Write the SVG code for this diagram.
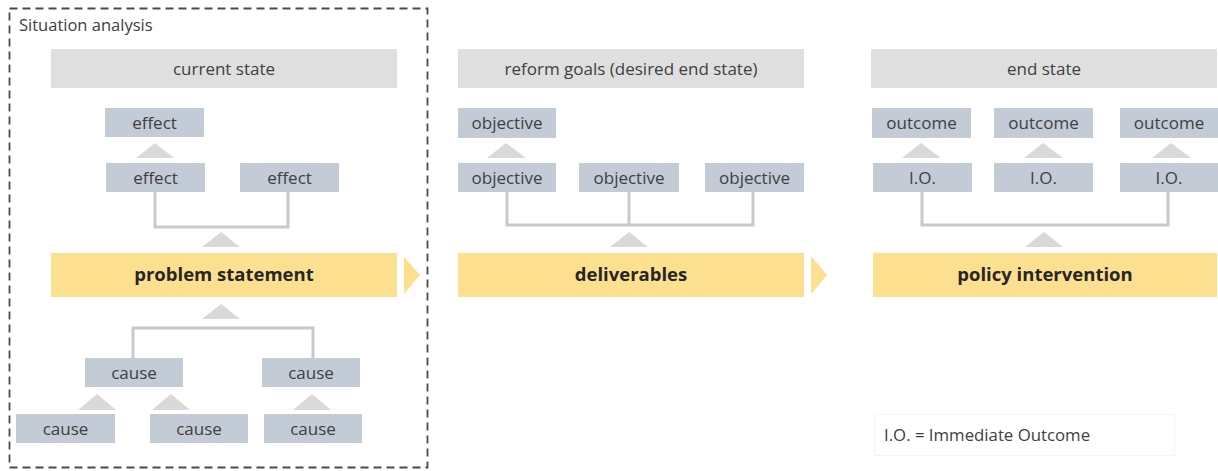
<svg xmlns="http://www.w3.org/2000/svg" width="1218" height="471" viewBox="0 0 1218 471">
<style>
text{font-family:"Open Sans","DejaVu Sans",sans-serif;fill:#404040;text-anchor:middle}
.hdr{fill:#dfdfdf}
.box{fill:#c3cbd7}
.main{fill:#fde08f}
.lbl{font-size:17px}
.big{font-size:18.5px;font-weight:bold;fill:#262626}
.tri{fill:#d9d9d9}
.con{fill:none;stroke:#c9c9c9;stroke-width:3}
.arr{fill:#fde08f}
</style>
<rect width="1218" height="471" fill="#fff"/>
<g id="situation-analysis">
<rect x="9.5" y="8.5" width="418" height="459" fill="none" stroke="#4a4a4a" stroke-width="1.8" stroke-dasharray="8,5"/>
<text x="19" y="31" style="font-size:16.5px;text-anchor:start">Situation analysis</text>
</g>
<g id="connectors">
<path class="con" d="M155 192V227H288V192"/>
<path class="con" d="M133 358V328H313V358"/>
<path class="con" d="M507 192V225H753V192M629 192V225"/>
<path class="con" d="M922 192V225H1168V192"/>
<polygon class="tri" points="136,158 155,143 174,158"/>
<polygon class="tri" points="202,247 221,232 240,247"/>
<polygon class="tri" points="202,319 221,304 240,319"/>
<polygon class="tri" points="78,410 97,394 116,410"/>
<polygon class="tri" points="152,410 171,394 190,410"/>
<polygon class="tri" points="293,410 312,394 331,410"/>
<polygon class="tri" points="487,158 506,143 526,158"/>
<polygon class="tri" points="610,247 629,232 648,247"/>
<polygon class="tri" points="902,158 921,143 941,158"/>
<polygon class="tri" points="1024,158 1043,143 1063,158"/>
<polygon class="tri" points="1152,158 1171,143 1191,158"/>
<polygon class="tri" points="1025,247 1044,232 1063,247"/>
<polygon class="arr" points="404,257 420,275 404,294"/>
<polygon class="arr" points="811,256 827,275 811,294"/>
</g>
<g id="current-state"><rect class="hdr" x="51" y="49" width="346" height="39"/><text class="lbl" x="224" y="75">current state</text></g>
<g id="effect-top"><rect class="box" x="105" y="108" width="99" height="29"/><text class="lbl" x="154.5" y="129">effect</text></g>
<g id="effect-left"><rect class="box" x="106" y="163" width="99" height="29"/><text class="lbl" x="155.5" y="184">effect</text></g>
<g id="effect-right"><rect class="box" x="240" y="163" width="99" height="29"/><text class="lbl" x="289.5" y="184">effect</text></g>
<g id="problem-statement"><rect class="main" x="51" y="253" width="346" height="44"/><text class="big" x="224" y="281">problem statement</text></g>
<g id="cause-1"><rect class="box" x="85" y="358" width="98" height="29"/><text class="lbl" x="134" y="379">cause</text></g>
<g id="cause-2"><rect class="box" x="262" y="358" width="98" height="29"/><text class="lbl" x="311" y="379">cause</text></g>
<g id="cause-3"><rect class="box" x="16" y="414" width="99" height="29"/><text class="lbl" x="65.5" y="435">cause</text></g>
<g id="cause-4"><rect class="box" x="150" y="414" width="98" height="29"/><text class="lbl" x="199" y="435">cause</text></g>
<g id="cause-5"><rect class="box" x="264" y="414" width="98" height="29"/><text class="lbl" x="313" y="435">cause</text></g>
<g id="reform-goals"><rect class="hdr" x="458" y="49" width="346" height="39"/><text class="lbl" x="631" y="75">reform goals (desired end state)</text></g>
<g id="objective-top"><rect class="box" x="458" y="108" width="98" height="30"/><text class="lbl" x="507" y="129">objective</text></g>
<g id="objective-1"><rect class="box" x="458" y="163" width="98" height="29"/><text class="lbl" x="507" y="184">objective</text></g>
<g id="objective-2"><rect class="box" x="579" y="163" width="100" height="29"/><text class="lbl" x="629" y="184">objective</text></g>
<g id="objective-3"><rect class="box" x="705" y="163" width="99" height="29"/><text class="lbl" x="754.5" y="184">objective</text></g>
<g id="deliverables"><rect class="main" x="458" y="253" width="346" height="44"/><text class="big" x="631" y="281">deliverables</text></g>
<g id="end-state"><rect class="hdr" x="871" y="49" width="346" height="39"/><text class="lbl" x="1044" y="75">end state</text></g>
<g id="outcome-1"><rect class="box" x="872" y="108" width="99" height="30"/><text class="lbl" x="921.5" y="129">outcome</text></g>
<g id="outcome-2"><rect class="box" x="994" y="108" width="99" height="30"/><text class="lbl" x="1043.5" y="129">outcome</text></g>
<g id="outcome-3"><rect class="box" x="1120" y="108" width="98" height="30"/><text class="lbl" x="1169" y="129">outcome</text></g>
<g id="io-1"><rect class="box" x="873" y="163" width="99" height="29"/><text class="lbl" x="922.5" y="184">I.O.</text></g>
<g id="io-2"><rect class="box" x="994" y="163" width="99" height="29"/><text class="lbl" x="1043.5" y="184">I.O.</text></g>
<g id="io-3"><rect class="box" x="1120" y="163" width="98" height="29"/><text class="lbl" x="1169" y="184">I.O.</text></g>
<g id="policy-intervention"><rect class="main" x="873" y="253" width="344" height="44"/><text class="big" x="1045" y="281">policy intervention</text></g>
<g id="legend"><rect x="874.5" y="414.5" width="300" height="41" fill="#fff" stroke="#f4f4f4"/><text x="884" y="441" style="font-size:16.8px;text-anchor:start">I.O. = Immediate Outcome</text></g>
</svg>
